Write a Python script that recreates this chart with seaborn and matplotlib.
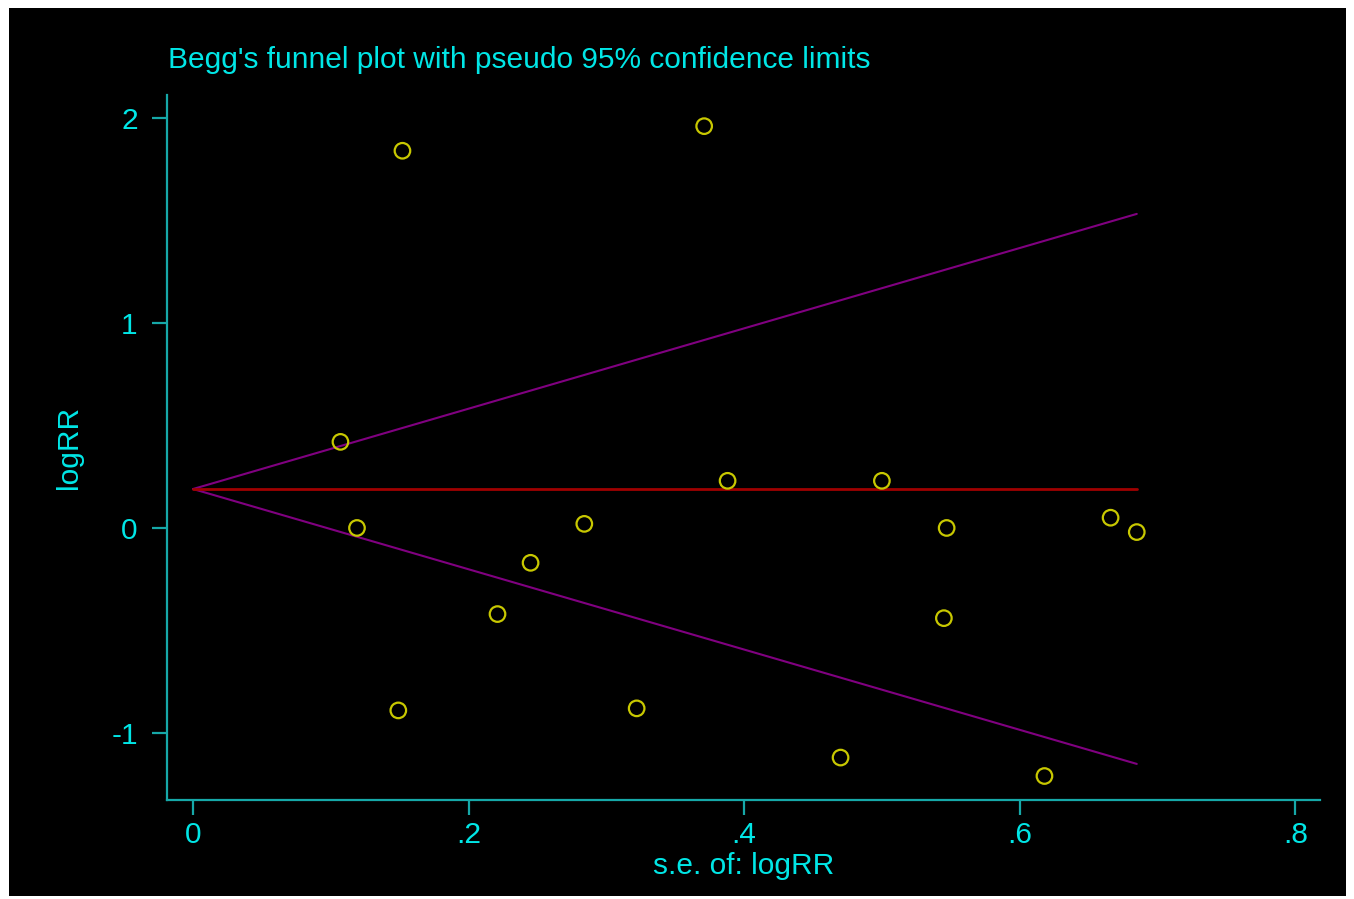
import pandas as pd
import seaborn as sns
import matplotlib.pyplot as plt
from matplotlib.patches import Rectangle

# study values
se_logrr = [0.107, 0.119, 0.152, 0.149, 0.221, 0.245, 0.284, 0.322, 0.371,
            0.388, 0.470, 0.500, 0.545, 0.547, 0.618, 0.666, 0.685]
logrr = [0.42, 0.00, 1.84, -0.89, -0.42, -0.17, 0.02, -0.88, 1.96,
         0.23, -1.12, 0.23, -0.44, 0.00, -1.21, 0.05, -0.02]

# pooled estimate and pseudo 95% limits (end points)
line_se = [0.0, 0.685]
pooled = [0.19, 0.19]
upper = [0.19, 1.532]
lower = [0.19, -1.151]

cyan = "#00e6e6"
teal = "#16a8a8"

sns.set_style("ticks")
plt.rcParams['font.family'] = ['Liberation Sans', 'DejaVu Sans']

fig = plt.figure(figsize=(13.54, 8.99), dpi=100)
fig.patch.set_facecolor("white")
fig.patches.append(Rectangle((9 / 1354, 3 / 899), 1337 / 1354, 888 / 899,
                             transform=fig.transFigure, facecolor="black",
                             edgecolor="none", zorder=-5))
ax = fig.add_axes([167 / 1354, 99 / 899, 1153 / 1354, 705 / 899])
ax.set_facecolor("black")

df = pd.DataFrame({"se": se_logrr, "logRR": logrr})
lines = pd.DataFrame({"se": line_se, "pooled": pooled, "upper": upper, "lower": lower})

sns.lineplot(data=lines, x="se", y="upper", color="#800080", lw=1.5, ax=ax)
sns.lineplot(data=lines, x="se", y="lower", color="#800080", lw=1.5, ax=ax)
sns.lineplot(data=lines, x="se", y="pooled", color="#a00000", lw=2, ax=ax)
sns.scatterplot(data=df, x="se", y="logRR", s=125, facecolor="none",
                edgecolor="#c8c800", linewidth=1.6, ax=ax, zorder=5)

ax.set_xlim(-0.0189, 0.818)
ax.set_ylim(-1.327, 2.112)
ax.set_xticks([0, 0.2, 0.4, 0.6, 0.8])
ax.set_xticklabels(["0", ".2", ".4", ".6", ".8"])
ax.set_yticks([-1, 0, 1, 2])
ax.set_yticklabels(["-1", "0", "1", "2"])

for side in ["top", "right"]:
    ax.spines[side].set_visible(False)
for side in ["left", "bottom"]:
    ax.spines[side].set_color(teal)
    ax.spines[side].set_linewidth(1.6)
ax.tick_params(axis="both", colors=teal, labelcolor=cyan, length=11, width=1.6,
               labelsize=21.5)
ax.tick_params(axis="y", pad=10)
ax.tick_params(axis="x", pad=4)

ax.set_xlabel("s.e. of: logRR", color=cyan, fontsize=21.5, labelpad=2)
ax.set_ylabel("logRR", color=cyan, fontsize=21.5, labelpad=20)
fig.text(168 / 1354, 1 - 68 / 899, "Begg's funnel plot with pseudo 95% confidence limits",
         color=cyan, fontsize=21.5, ha="left", va="baseline")

fig.savefig("out.png", dpi=100, facecolor=fig.get_facecolor())
